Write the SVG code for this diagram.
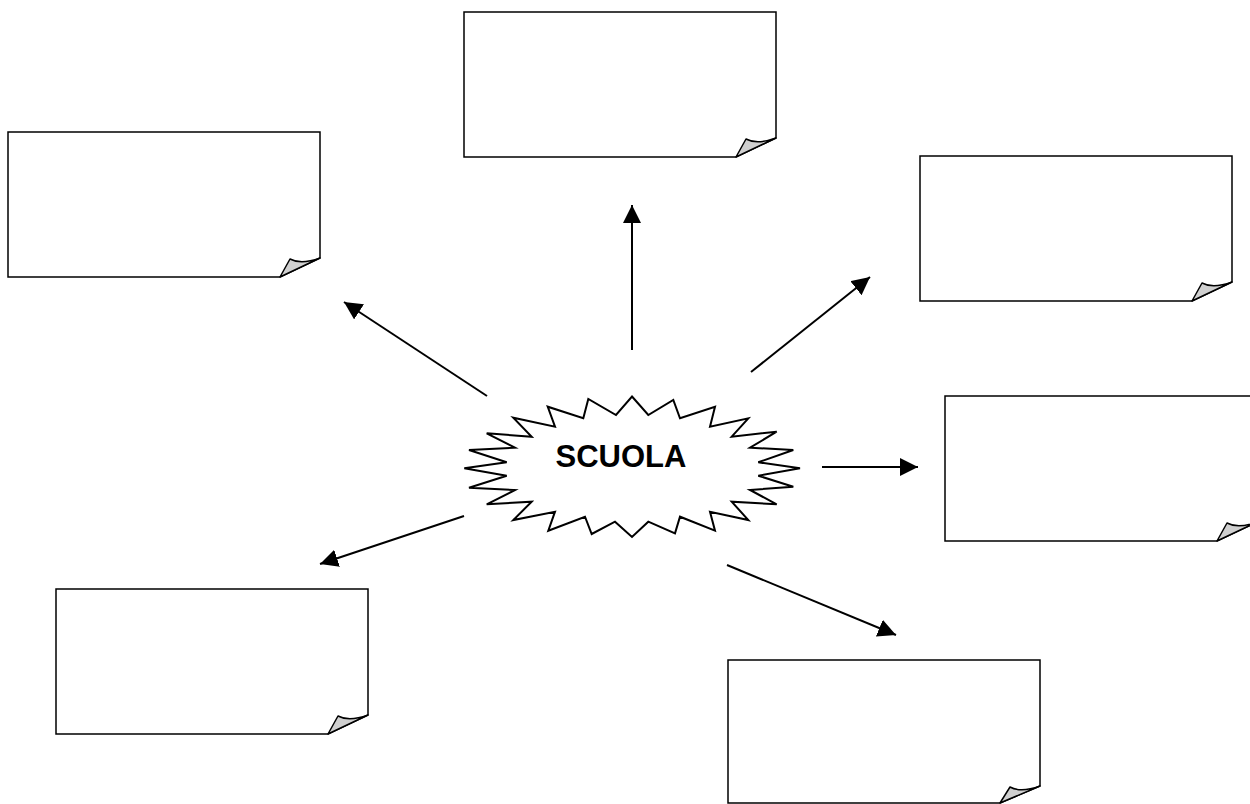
<svg xmlns="http://www.w3.org/2000/svg" width="1250" height="804" viewBox="0 0 1250 804">
<style>
.box{fill:#fff;stroke:#000;stroke-width:1.5}
.fold{fill:#d0d0d0;stroke:#000;stroke-width:1.5;stroke-linejoin:round}
.arr{stroke:#000;stroke-width:2;fill:none}
.lbl{font-family:"Liberation Sans",Arial,sans-serif;font-weight:bold;font-size:31px;fill:#000}
</style>
<defs>
<marker id="ah" markerUnits="userSpaceOnUse" markerWidth="18" markerHeight="18" viewBox="0 0 16 16" refX="16" refY="8" orient="auto">
<path d="M0,0 L16,8 L0,16 Z" fill="#000"/>
</marker>
<path id="note" d="M0,0 H312 V126 L272,145 H0 Z"/>
</defs>
<rect width="1250" height="804" fill="#fff"/>
<g id="box-top" transform="translate(464,12)">
<path class="box" d="M0,0 H312 V126 L272,145 H0 Z"/>
<path class="fold" d="M272,145 L282,127 Q293,133 312,126 Z"/>
</g>
<g id="box-left-top" transform="translate(8,132)">
<path class="box" d="M0,0 H312 V126 L272,145 H0 Z"/>
<path class="fold" d="M272,145 L282,127 Q293,133 312,126 Z"/>
</g>
<g id="box-right-top" transform="translate(920,156)">
<path class="box" d="M0,0 H312 V126 L272,145 H0 Z"/>
<path class="fold" d="M272,145 L282,127 Q293,133 312,126 Z"/>
</g>
<g id="box-right-mid" transform="translate(945,396)">
<path class="box" d="M0,0 H312 V126 L272,145 H0 Z"/>
<path class="fold" d="M272,145 L282,127 Q293,133 312,126 Z"/>
</g>
<g id="box-left-bottom" transform="translate(56,589)">
<path class="box" d="M0,0 H312 V126 L272,145 H0 Z"/>
<path class="fold" d="M272,145 L282,127 Q293,133 312,126 Z"/>
</g>
<g id="box-right-bottom" transform="translate(728,660)">
<path class="box" d="M0,0 H312 V126 L272,143 H0 Z"/>
<path class="fold" d="M272,143 L282,127 Q293,133 312,126 Z"/>
</g>
<g id="center">
<polygon fill="#fff" stroke="#000" stroke-width="2" stroke-linejoin="miter" points="632,396.5 648.3,415 673.3,400 680,418.3 715,406.7 710,426.7 748.3,418.3 731.7,436.7 776.7,431.7 750,447.7 793.3,450 758.3,462.3 800,468.3 758.3,475.7 793.3,486.7 750,490 776.7,504.3 731.7,501.7 748.3,520 710,511.7 715,530.7 680,516.7 675,533.3 648.3,521.7 632,537 615,521.7 591.7,534 585,516.7 548.3,530.7 555,511.7 513.3,520 531.7,501.7 486.7,504.3 515,490 469,487.7 506.7,475.7 464.3,468.3 506.7,462.3 469,450 515,447.7 486.7,433.3 531.7,436.7 513.3,417.7 555,426.7 547.7,406.7 583.3,418.3 588.3,399 616,415"/>
<text class="lbl" x="621" y="467" text-anchor="middle">SCUOLA</text>
</g>
<g id="connectors">
<line class="arr" x1="632" y1="350" x2="632" y2="205" marker-end="url(#ah)"/>
<line class="arr" x1="487" y1="396" x2="344" y2="302" marker-end="url(#ah)"/>
<line class="arr" x1="751" y1="372" x2="870" y2="277" marker-end="url(#ah)"/>
<line class="arr" x1="822" y1="467" x2="918" y2="467" marker-end="url(#ah)"/>
<line class="arr" x1="464" y1="516" x2="320" y2="564" marker-end="url(#ah)"/>
<line class="arr" x1="727" y1="565" x2="896" y2="635" marker-end="url(#ah)"/>
</g>
</svg>
